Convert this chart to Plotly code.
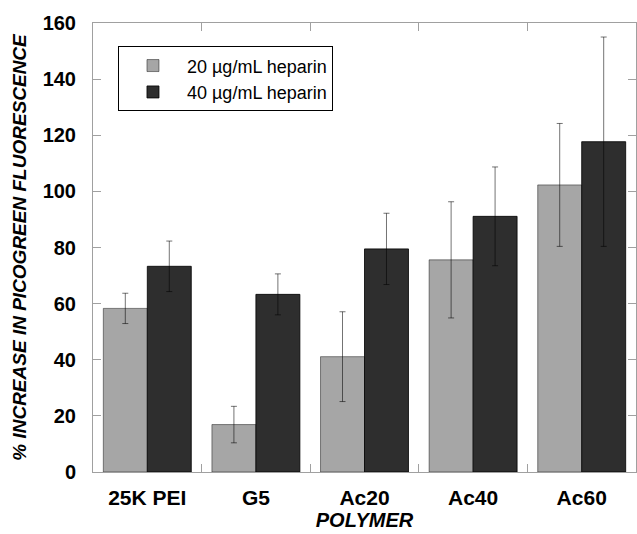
import plotly.graph_objects as go

categories = ["25K PEI", "G5", "Ac20", "Ac40", "Ac60"]
heparin20 = [58.3, 16.9, 41.1, 75.6, 102.3]
heparin20_err = [5.4, 6.5, 16.0, 20.7, 21.9]
heparin40 = [73.3, 63.3, 79.5, 91.1, 117.7]
heparin40_err = [9.0, 7.3, 12.7, 17.6, 37.3]
series_names = ["20 µg/mL heparin", "40 µg/mL heparin"]
y_ticks = [0, 20, 40, 60, 80, 100, 120, 140, 160]

FONT = "Arial, Liberation Sans, sans-serif"
err_style = dict(type="data", color="rgba(0,0,0,0.55)", thickness=1, width=3)

fig = go.Figure()
fig.add_trace(go.Bar(
    x=categories, y=heparin20, name=series_names[0],
    marker=dict(color="#a6a6a6", line=dict(color="rgba(0,0,0,0.45)", width=1)),
    error_y=dict(array=heparin20_err, **err_style),
))
fig.add_trace(go.Bar(
    x=categories, y=heparin40, name=series_names[1],
    marker=dict(color="#2e2e2e", line=dict(color="rgba(0,0,0,0.8)", width=1)),
    error_y=dict(array=heparin40_err, **err_style),
))

axis_common = dict(
    showline=True, linecolor="#a0a0a0", linewidth=1, mirror="ticks",
    ticks="inside", ticklen=8, tickcolor="#a0a0a0", showgrid=False, zeroline=False,
    automargin=False,
)

fig.update_layout(
    width=637, height=534,
    margin=dict(l=93, r=1, t=23, b=62),
    paper_bgcolor="white", plot_bgcolor="white",
    barmode="group", bargap=0.19, bargroupgap=0,
    font=dict(family=FONT, color="black"),
    showlegend=True,
    legend=dict(
        x=0.046, y=0.948, xanchor="left", yanchor="top",
        bordercolor="black", borderwidth=1, bgcolor="white",
        font=dict(family=FONT, size=18, color="black"),
        itemwidth=58, tracegroupgap=0,
    ),
    xaxis=dict(
        **axis_common, tickson="boundaries",
        tickfont=dict(family=FONT, size=21, color="black", weight="bold"),
        ticklabelstandoff=7,
        title=dict(text="<b><i>POLYMER</i></b>", font=dict(family=FONT, size=20, color="black"), standoff=4),
    ),
    yaxis=dict(
        **axis_common, range=[0, 160], tickvals=y_ticks,
        tickfont=dict(family=FONT, size=20, color="black", weight="bold"),
        ticklabelstandoff=12,
        title=dict(text="<b><i>% INCREASE IN PICOGREEN FLUORESCENCE</i></b>",
                   font=dict(family=FONT, size=19, color="black"), standoff=10),
    ),
)

fig.write_html(
    "out.html",
    config={"displayModeBar": False},
    post_script="document.body.style.margin='0';document.body.style.overflow='hidden';",
)
